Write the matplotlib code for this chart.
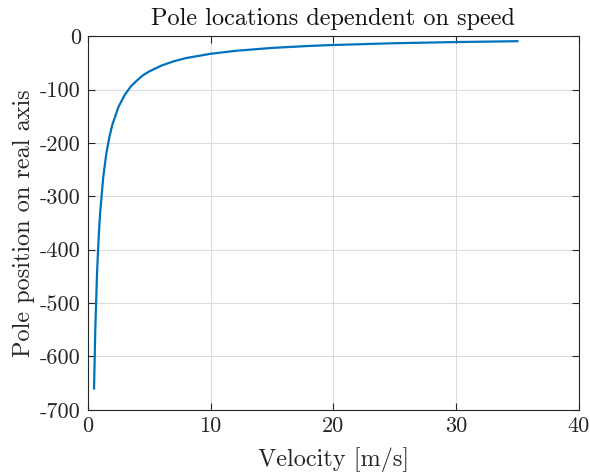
import numpy as np
import matplotlib.pyplot as plt

velocity = [0.5, 0.6, 0.75, 0.9, 1.0, 1.25, 1.5, 1.75, 2.0, 2.5, 3.0, 3.5, 4.0,
            4.5, 5.0, 6.0, 7.0, 8.0, 9.0, 10.0, 12.0, 15.0, 18.0, 20.0, 25.0,
            30.0, 35.0]
pole = [-660, -550, -440, -367, -330, -264, -220, -189, -165, -132, -110,
        -94, -83, -73, -66, -55, -47, -41, -37, -33, -27.5, -22, -18.3,
        -16.5, -13.2, -11, -9.4]
xticks = [0, 10, 20, 30, 40]
yticks = [0, -100, -200, -300, -400, -500, -600, -700]

plt.rcParams['font.family'] = 'cmr10'
plt.rcParams['axes.unicode_minus'] = False

fig = plt.figure(figsize=(5.9, 4.76), dpi=100)
ax = fig.add_axes([0.149, 0.139, 0.832, 0.785])
ax.plot(velocity, pole, color="#0072BD", linewidth=1.6)

ax.set_xlim(0, 40)
ax.set_ylim(-700, 0)
ax.set_xticks(xticks)
ax.set_yticks(yticks)
ax.grid(True, color="#dcdcdc", linewidth=0.8)
ax.set_axisbelow(True)
ax.tick_params(direction="in", length=5, width=0.8, colors="#262626",
               labelsize=16, top=True, right=True, labelcolor="#262626")
ax.tick_params(axis="x", pad=5)
ax.tick_params(axis="y", pad=5)
for s in ax.spines.values():
    s.set_color("#262626")
    s.set_linewidth(0.8)

ax.set_xlabel("Velocity [m/s]", fontsize=17.5, color="#262626", labelpad=8)
ax.set_ylabel("Pole position on real axis", fontsize=17.5, color="#262626",
              labelpad=4)
ax.set_title("Pole locations dependent on speed", fontsize=17.5, color="#111111",
             pad=8)

fig.savefig("out.png", dpi=100)
